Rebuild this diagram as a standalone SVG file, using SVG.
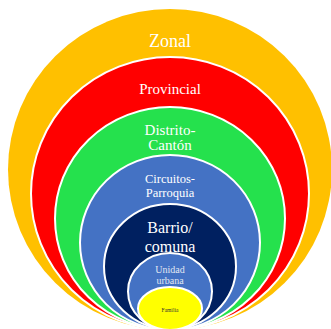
<svg xmlns="http://www.w3.org/2000/svg" width="331" height="329" viewBox="0 0 331 329">
<style>
.ring{stroke:#FFFFFF;stroke-width:2}
.lbl{font-family:"Liberation Serif","Times New Roman",serif;fill:#FFFFFF;text-anchor:middle}
</style>
<rect width="331" height="329" fill="#FFFFFF"/>
<g id="zonal">
<ellipse cx="170" cy="169.5" rx="162" ry="160.5" fill="#FFC000"/>
<text class="lbl" x="170" y="47" font-size="18">Zonal</text>
</g>
<g id="provincial">
<ellipse class="ring" cx="170" cy="193.5" rx="139" ry="136.5" fill="#FF0000"/>
<text class="lbl" x="170" y="94" font-size="15">Provincial</text>
</g>
<g id="distrito">
<ellipse class="ring" cx="170" cy="218.5" rx="115" ry="111.5" fill="#25E14D"/>
<text class="lbl" x="170" y="135" font-size="15">Distrito-</text>
<text class="lbl" x="170" y="150" font-size="15">Cantón</text>
</g>
<g id="circuitos">
<ellipse class="ring" cx="170" cy="242.5" rx="90" ry="87.5" fill="#4472C4"/>
<text class="lbl" x="170" y="183" font-size="12.5">Circuitos-</text>
<text class="lbl" x="170" y="197" font-size="12.5">Parroquia</text>
</g>
<g id="barrio">
<ellipse class="ring" cx="170" cy="266.5" rx="66" ry="62.5" fill="#002060"/>
<text class="lbl" x="170" y="233" font-size="16">Barrio/</text>
<text class="lbl" x="170" y="252" font-size="16">comuna</text>
</g>
<g id="unidad">
<ellipse class="ring" cx="170" cy="291.5" rx="42" ry="38.5" fill="#4472C4"/>
<text class="lbl" x="170" y="273" font-size="10" style="fill:#E0E6F2">Unidad</text>
<text class="lbl" x="170" y="284" font-size="10" style="fill:#E0E6F2">urbana</text>
</g>
<g id="familia">
<ellipse class="ring" cx="170" cy="308.5" rx="32" ry="21.5" fill="#FFFF00"/>
<text class="lbl" x="170" y="312" font-size="5.5" style="fill:#333333">Familia</text>
</g>
<g id="connectors"/>
</svg>
